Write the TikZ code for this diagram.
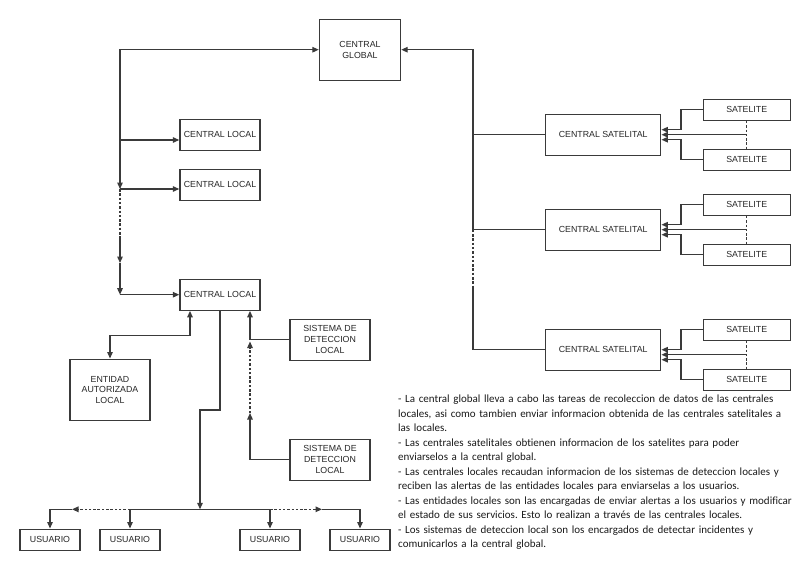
\documentclass[tikz,border=0pt]{standalone}
\usepackage{fontspec}
\setmainfont{Liberation Sans}
\newfontfamily\notefont[Ligatures=NoCommon]{Carlito}
\usetikzlibrary{arrows.meta,calc}
\definecolor{ln}{HTML}{3A3A3A}
\tikzset{
  box/.style={draw=ln, line width=1.4pt, fill=white, inner sep=0pt, align=center,
    font=\fontsize{8.8}{11}\selectfont, text=black!85},
  con/.style={draw=ln, line width=1.3pt},
  arr/.style={con, -{Triangle[length=6.5pt,width=5.5pt]}},
  darr/.style={con, {Triangle[length=6.5pt,width=5.5pt]}-{Triangle[length=6.5pt,width=5.5pt]}},
  dsh/.style={dash pattern=on 2.5pt off 1.8pt},
}
\begin{document}
\begin{tikzpicture}[x=1pt,y=-1pt]
\path[use as bounding box] (0,0) rectangle (800,570);
% boxes
\node[box, minimum width=81pt, minimum height=61pt] (global) at (360,49.7) {CENTRAL\\GLOBAL};
\node[box, minimum width=80pt, minimum height=31pt] (cl1) at (220,134.7) {CENTRAL LOCAL};
\node[box, minimum width=80pt, minimum height=31pt] (cl2) at (220,184.7) {CENTRAL LOCAL};
\node[box, minimum width=80pt, minimum height=31pt] (cl3) at (220,294.7) {CENTRAL LOCAL};
\node[box, minimum width=115pt, minimum height=41pt] (cs1) at (603.2,134.7) {CENTRAL SATELITAL};
\node[box, minimum width=115pt, minimum height=41pt] (cs2) at (603.2,229.7) {CENTRAL SATELITAL};
\node[box, minimum width=115pt, minimum height=41pt] (cs3) at (603.2,349.7) {CENTRAL SATELITAL};
\node[box, minimum width=87pt, minimum height=21pt] (s1) at (746.7,109.7) {SATELITE};
\node[box, minimum width=87pt, minimum height=21pt] (s2) at (746.7,159.7) {SATELITE};
\node[box, minimum width=87pt, minimum height=21pt] (s3) at (746.7,204.7) {SATELITE};
\node[box, minimum width=87pt, minimum height=21pt] (s4) at (746.7,254.7) {SATELITE};
\node[box, minimum width=87pt, minimum height=21pt] (s5) at (746.7,329.7) {SATELITE};
\node[box, minimum width=87pt, minimum height=21pt] (s6) at (746.7,379.7) {SATELITE};
\node[box, minimum width=80pt, minimum height=61pt, font=\fontsize{8.8}{10.5}\selectfont] (ent) at (110,389.7) {ENTIDAD\\AUTORIZADA\\LOCAL};
\node[box, minimum width=80pt, minimum height=41pt, font=\fontsize{8.8}{11.2}\selectfont] (sd1) at (330,339.7) {SISTEMA DE\\DETECCION\\LOCAL};
\node[box, minimum width=80pt, minimum height=41pt, font=\fontsize{8.8}{11.2}\selectfont] (sd2) at (330,459.7) {SISTEMA DE\\DETECCION\\LOCAL};
\node[box, minimum width=60pt, minimum height=21pt] (u1) at (50,539.7) {USUARIO};
\node[box, minimum width=60pt, minimum height=21pt] (u2) at (130,539.7) {USUARIO};
\node[box, minimum width=60pt, minimum height=21pt] (u3) at (270,539.7) {USUARIO};
\node[box, minimum width=60pt, minimum height=21pt] (u4) at (360,539.7) {USUARIO};
% left trunk
\coordinate (lv1) at (120,189);
\coordinate (lv2) at (120,238);
\coordinate (lv3) at (120,263);
\coordinate (c1in) at ($(cl1.west)+(0,5.3)$);
\draw[darr] (lv1) |- (global.west);
\draw[arr] (c1in -| lv1) -- (c1in);
\draw[arr] (lv1) -- (cl2.west |- lv1);
\draw[con, dsh] (lv1) -- (lv2);
\draw[arr] (lv2) -- (lv3);
\draw[arr] (lv3) -- (lv3 |- cl3.west);
\draw[arr] (lv3 |- cl3.west) -- (cl3.west);
% right trunk
\coordinate (rtop) at (473,49.7);
\coordinate (rd) at (473,287);
\draw[arr] (cs2.west) -| (rtop) -- (global.east);
\draw[con] (cs1.west) -- (cs1.west -| rtop);
\draw[con, dsh] (cs2.west -| rtop) -- (rd);
\draw[con] (rd) |- (cs3.west);
% satellites
\foreach \a/\b/\c in {s1/s2/cs1, s3/s4/cs2, s5/s6/cs3}{
  \coordinate (m\a) at ($(\a.south)!0.5!(\b.north)$);
  \draw[arr] (\a.west) -- ++(-21.6,0) |- ($(m\a -| \c.east)+(0,-5)$);
  \draw[arr] (\b.west) -- ++(-21.6,0) |- ($(m\a -| \c.east)+(0,5)$);
  \draw[arr] (m\a) -- (m\a -| \c.east);
  \draw[con, line width=1pt, dsh] (\a.south) -- (\b.north);
}
% entidad
\draw[darr] (ent.north) |- ($(cl3.south)+(-30,24.3)$) -- ($(cl3.south)+(-30,0)$);
% sistemas
\coordinate (sdj) at (250,413);
\draw[arr] (sd1.west) -| ($(cl3.south)+(30,0)$);
\draw[arr] (sd2.west) -| (sdj);
\draw[arr, dsh] (sdj) -- (250,341.5);
% usuarios
\coordinate (hb) at (200,509.3);
\coordinate (hl) at (72,509.3);
\coordinate (hr) at (322,509.3);
\draw[arr] (cl3.south) |- (200,410) -- (hb);
\draw[con] (u2.north |- hb) -- (u3.north |- hb);
\draw[arr] (u2.north |- hb) -- (u2.north);
\draw[arr] (u3.north |- hb) -- (u3.north);
\draw[arr, dsh] (u2.north |- hb) -- (hl);
\draw[arr] (hl) -| (u1.north);
\draw[arr, dsh] (u3.north |- hb) -- (hr);
\draw[arr] (hr) -| (u4.north);
% notes
\node[anchor=north west, inner sep=0pt, align=left, text width=402pt, text=black!90,
  font=\notefont\fontsize{11}{14.5}\selectfont\frenchspacing] (notes) at (398,395) {%
- La central global lleva a cabo las tareas de recoleccion de datos de las centrales\\
locales, asi como tambien enviar informacion obtenida de las centrales satelitales a\\
las locales.\\
- Las centrales satelitales obtienen informacion de los satelites para poder\\
enviarselos a la central global.\\
- Las centrales locales recaudan informacion de los sistemas de deteccion locales y\\
reciben las alertas de las entidades locales para enviarselas a los usuarios.\\
- Las entidades locales son las encargadas de enviar alertas a los usuarios y modificar\\
el estado de sus servicios. Esto lo realizan a través de las centrales locales.\\
- Los sistemas de deteccion local son los encargados de detectar incidentes y\\
comunicarlos a la central global.};
\end{tikzpicture}
\end{document}
